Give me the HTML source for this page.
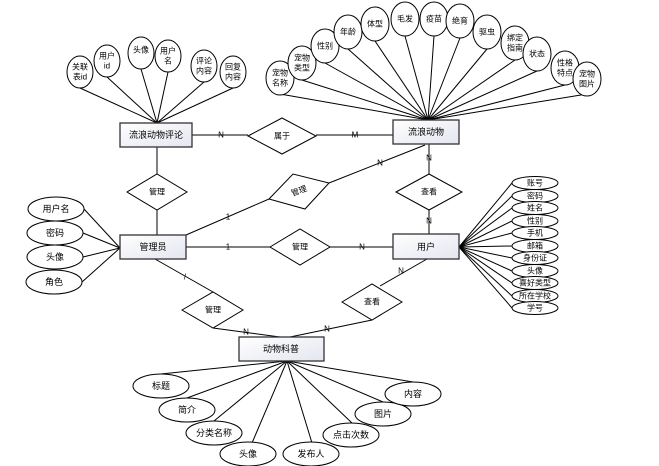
<!DOCTYPE html>
<html><head><meta charset="utf-8"><style>
body{margin:0;background:#fff}
svg{display:block}
text{font-family:"Liberation Sans","Noto Sans CJK SC",sans-serif;fill:#000;text-anchor:middle;dominant-baseline:central}
.s{font-size:8px}
.b{font-size:9px}
</style></head><body>
<svg width="659" height="466" viewBox="0 0 659 466" xmlns="http://www.w3.org/2000/svg">
<defs><linearGradient id="g" x1="0" y1="0" x2="1" y2="1"><stop offset="0" stop-color="#fff"/><stop offset="1" stop-color="#e4e6f0"/></linearGradient></defs>
<g stroke="#000" stroke-width="1" fill="none">
<!-- comment attrs lines -->
<line x1="80" y1="88" x2="157" y2="123"/><line x1="107" y1="77" x2="157" y2="123"/><line x1="141" y1="69" x2="157" y2="123"/><line x1="168" y1="72" x2="157" y2="123"/><line x1="204" y1="82" x2="157" y2="123"/><line x1="233" y1="88" x2="157" y2="123"/>
<!-- pet attrs lines -->
<line x1="280" y1="94" x2="428" y2="120"/><line x1="302" y1="80" x2="428" y2="120"/><line x1="325" y1="63" x2="428" y2="120"/><line x1="348" y1="49" x2="428" y2="120"/><line x1="375" y1="41" x2="428" y2="120"/><line x1="405" y1="36" x2="428" y2="120"/><line x1="434" y1="36" x2="428" y2="120"/><line x1="460" y1="38" x2="428" y2="120"/><line x1="487" y1="49" x2="428" y2="120"/><line x1="515" y1="60" x2="428" y2="120"/><line x1="537" y1="71" x2="428" y2="120"/><line x1="565" y1="85" x2="428" y2="120"/><line x1="587" y1="94" x2="428" y2="120"/>
<!-- relations -->
<line x1="192" y1="135" x2="248" y2="135"/><line x1="316" y1="135" x2="393" y2="135"/>
<line x1="157" y1="147" x2="157" y2="235"/>
<line x1="186" y1="235" x2="269" y2="199"/><line x1="329" y1="183" x2="425" y2="145"/>
<line x1="186" y1="247" x2="270" y2="247"/><line x1="330" y1="247" x2="393" y2="247"/>
<line x1="429" y1="144" x2="429" y2="174"/><line x1="429" y1="210" x2="429" y2="235"/>
<line x1="155" y1="259" x2="213" y2="292"/><line x1="213" y1="328" x2="280" y2="337"/>
<line x1="427" y1="259" x2="380" y2="286"/><line x1="372" y1="320" x2="290" y2="337"/>
<!-- admin attrs -->
<line x1="84" y1="209" x2="120" y2="248"/><line x1="83" y1="233" x2="120" y2="248"/><line x1="83" y1="257" x2="120" y2="248"/><line x1="82" y1="282" x2="120" y2="248"/>
<!-- user attrs -->
<line x1="512" y1="183" x2="459" y2="247"/><line x1="512" y1="196" x2="459" y2="247"/><line x1="512" y1="208" x2="459" y2="247"/><line x1="512" y1="221" x2="459" y2="247"/><line x1="512" y1="233" x2="459" y2="247"/><line x1="512" y1="246" x2="459" y2="247"/><line x1="512" y1="258" x2="459" y2="247"/><line x1="512" y1="271" x2="459" y2="247"/><line x1="512" y1="283" x2="459" y2="247"/><line x1="512" y1="296" x2="459" y2="247"/><line x1="512" y1="308" x2="459" y2="247"/>
<!-- science attrs -->
<line x1="161" y1="374" x2="287" y2="361"/><line x1="187" y1="398" x2="287" y2="361"/><line x1="214" y1="421" x2="287" y2="361"/><line x1="252" y1="443" x2="287" y2="361"/><line x1="312" y1="443" x2="287" y2="361"/><line x1="352" y1="423" x2="287" y2="361"/><line x1="383" y1="402" x2="287" y2="361"/><line x1="413" y1="382" x2="287" y2="361"/>
</g>
<g stroke="#000" fill="#fff">
<!-- comment ellipses -->
<ellipse cx="80" cy="72" rx="13" ry="16"/><ellipse cx="107" cy="61" rx="13" ry="16"/><ellipse cx="141" cy="53" rx="13" ry="16"/><ellipse cx="168" cy="56" rx="13" ry="16"/><ellipse cx="204" cy="66" rx="13" ry="16"/><ellipse cx="233" cy="72" rx="13" ry="16"/>
<!-- pet ellipses -->
<ellipse cx="280" cy="78" rx="14" ry="17"/><ellipse cx="302" cy="63" rx="14" ry="17"/><ellipse cx="325" cy="46" rx="14" ry="17"/><ellipse cx="348" cy="32" rx="14" ry="17"/><ellipse cx="375" cy="24" rx="14" ry="17"/><ellipse cx="405" cy="19" rx="14" ry="17"/><ellipse cx="434" cy="19" rx="14" ry="17"/><ellipse cx="460" cy="21" rx="14" ry="17"/><ellipse cx="487" cy="32" rx="14" ry="17"/><ellipse cx="515" cy="43" rx="14" ry="17"/><ellipse cx="537" cy="54" rx="14" ry="17"/><ellipse cx="565" cy="68" rx="14" ry="17"/><ellipse cx="587" cy="79" rx="14" ry="17"/>
<!-- admin ellipses -->
<ellipse cx="56" cy="209" rx="28" ry="12"/><ellipse cx="55" cy="233" rx="28" ry="12"/><ellipse cx="55" cy="257" rx="28" ry="12"/><ellipse cx="54" cy="282" rx="28" ry="12"/>
<!-- user ellipses -->
<ellipse cx="535" cy="183" rx="23" ry="6.5"/><ellipse cx="535" cy="196" rx="23" ry="6.5"/><ellipse cx="535" cy="208" rx="23" ry="6.5"/><ellipse cx="535" cy="221" rx="23" ry="6.5"/><ellipse cx="535" cy="233" rx="23" ry="6.5"/><ellipse cx="535" cy="246" rx="23" ry="6.5"/><ellipse cx="535" cy="258" rx="23" ry="6.5"/><ellipse cx="535" cy="271" rx="23" ry="6.5"/><ellipse cx="535" cy="283" rx="23" ry="6.5"/><ellipse cx="535" cy="296" rx="23" ry="6.5"/><ellipse cx="535" cy="308" rx="23" ry="6.5"/>
<!-- science ellipses -->
<ellipse cx="161" cy="386" rx="28" ry="12"/><ellipse cx="187" cy="410" rx="28" ry="12"/><ellipse cx="214" cy="433" rx="28" ry="12"/><ellipse cx="248" cy="454" rx="28" ry="12"/><ellipse cx="311" cy="454" rx="28" ry="12"/><ellipse cx="351" cy="435" rx="28" ry="12"/><ellipse cx="383" cy="414" rx="28" ry="12"/><ellipse cx="413" cy="394" rx="28" ry="12"/>
<!-- diamonds -->
<polygon points="248,136 282,118 316,136 282,154"/>
<polygon points="127,192 157,174 187,192 157,210"/>
<polygon points="269,199 293,174 329,183 305,209"/>
<polygon points="270,247 300,229 330,247 300,265"/>
<polygon points="396,192 429,174 462,192 429,210"/>
<polygon points="182,310 213,292 243,310 213,328"/>
<polygon points="342,302 372,284 402,302 372,320"/>
</g>
<g stroke="#333" stroke-width="1.3" fill="url(#g)">
<rect x="120" y="123" width="72" height="24"/>
<rect x="393" y="120" width="66" height="24"/>
<rect x="120" y="235" width="66" height="24"/>
<rect x="393" y="234" width="66" height="25"/>
<rect x="239" y="337" width="85" height="24"/>
</g>
<g class="s" fill="#444">
<text x="80" y="67">关联</text><text x="80" y="77">表id</text>
<text x="107" y="56">用户</text><text x="107" y="66">id</text>
<text x="141" y="50">头像</text>
<text x="168" y="51">用户</text><text x="168" y="61">名</text>
<text x="204" y="61">评论</text><text x="204" y="71">内容</text>
<text x="233" y="67">回复</text><text x="233" y="77">内容</text>
<text x="280" y="73">宠物</text><text x="280" y="83">名称</text>
<text x="302" y="58">宠物</text><text x="302" y="68">类型</text>
<text x="325" y="46">性别</text><text x="348" y="32">年龄</text><text x="375" y="24">体型</text><text x="405" y="19">毛发</text><text x="434" y="19">疫苗</text><text x="460" y="21">绝育</text><text x="487" y="32">驱虫</text>
<text x="515" y="38">绑定</text><text x="515" y="48">指南</text>
<text x="537" y="54">状态</text>
<text x="565" y="63">性格</text><text x="565" y="73">特点</text>
<text x="587" y="74">宠物</text><text x="587" y="84">图片</text>
</g>
<g class="b">
<text x="156" y="135">流浪动物评论</text>
<text x="426" y="132">流浪动物</text>
<text x="153" y="247">管理员</text>
<text x="426" y="247">用户</text>
<text x="281" y="349">动物科普</text>
<text x="56" y="209">用户名</text><text x="55" y="233">密码</text><text x="55" y="257">头像</text><text x="54" y="282">角色</text>
<text x="161" y="386">标题</text><text x="187" y="410">简介</text><text x="214" y="433">分类名称</text><text x="248" y="454">头像</text><text x="311" y="454">发布人</text><text x="351" y="435">点击次数</text><text x="383" y="414">图片</text><text x="413" y="394">内容</text>
</g>
<g class="s">
<text x="535" y="183">账号</text><text x="535" y="196">密码</text><text x="535" y="208">姓名</text><text x="535" y="221">性别</text><text x="535" y="233">手机</text><text x="535" y="246">邮箱</text><text x="535" y="258">身份证</text><text x="535" y="271">头像</text><text x="535" y="283">喜好类型</text><text x="535" y="296">所在学校</text><text x="535" y="308">学号</text>
<text x="282" y="136">属于</text>
<text x="157" y="192">管理</text>
<text x="299" y="191" transform="rotate(-20 299 191)">管理</text>
<text x="300" y="247">管理</text>
<text x="429" y="192">查看</text>
<text x="213" y="310">管理</text>
<text x="372" y="302">查看</text>
<text x="221" y="135" style="font-size:8px">N</text>
<text x="355" y="135">M</text>
<text x="380" y="163">N</text>
<text x="429" y="158">N</text>
<text x="429" y="221">N</text>
<text x="228" y="217">1</text>
<text x="228" y="247">1</text>
<text x="362" y="247">N</text>
<text x="185" y="277">/</text>
<text x="246" y="332">N</text>
<text x="401" y="271">N</text>
<text x="327" y="329">N</text>
</g>
</svg>
</body></html>
